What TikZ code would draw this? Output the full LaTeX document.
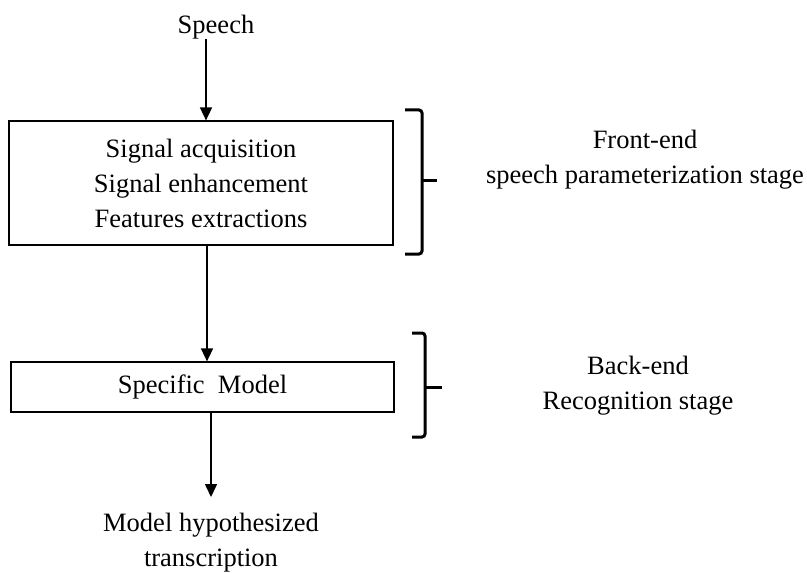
\documentclass[tikz,border=0pt]{standalone}
\usepackage{fontspec}
\setmainfont{Liberation Serif}
\usetikzlibrary{arrows.meta}

\begin{document}
\begin{tikzpicture}[x=0.5pt,y=-0.5pt,
  box/.style={draw,line width=0.6pt,inner sep=0pt},
  txt/.style={font=\fontsize{13.25}{17.5}\selectfont,align=center,inner sep=0pt},
  arr/.style={line width=0.8pt,-{Triangle[length=6.5pt,width=6pt]}},
  brace/.style={line width=1.5pt,rounded corners=1.5pt}]
\useasboundingbox (0,0) rectangle (807,572);
%Knoten fuer die Stufen
\node[txt] (speech) at (216,27) {Speech};
\node[box,txt,minimum width=192pt,minimum height=62pt] (front) at (201,183)
  {Signal acquisition\\Signal enhancement\\Features extractions};
\node[box,txt,minimum width=191.5pt,minimum height=25pt] (back) at (202.5,387)
  {Specific\ \ Model};
\node[txt,anchor=north] (hypo) at (211,513) {Model hypothesized\\transcription};
\node[txt] (fe) at (645,160) {Front-end\\speech parameterization stage};
\node[txt] (be) at (638,386) {Back-end\\Recognition stage};

\draw[arr] ([xshift=-5pt]speech.south) -- ([xshift=-5pt]speech.south |- front.north);
\draw[arr] ([xshift=3pt]front.south) -- ([xshift=3pt]front.south |- back.north);
\draw[arr,shorten >=8pt] ([xshift=4.25pt]back.south) -- (hypo.north);

%Klammern
\draw[brace] (405,110) -- (422,110) -- (422,254) -- (405,254);
\draw[brace] (422,181) -- (437,181);
\draw[brace] (412,333) -- (425,333) -- (425,437) -- (412,437);
\draw[brace] (425,387) -- (442,387);
\end{tikzpicture}
\end{document}
